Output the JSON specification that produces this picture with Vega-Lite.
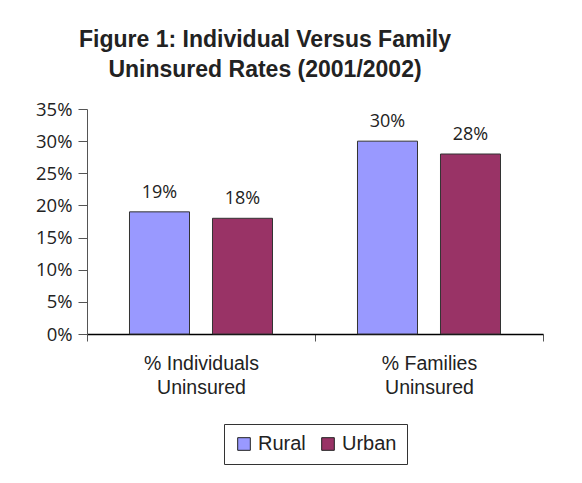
{
  "$schema": "https://vega.github.io/schema/vega-lite/v6.json",
  "width": 456,
  "height": 225,
  "padding": {"left": 35, "top": 29, "right": 5, "bottom": 5},
  "background": "white",
  "title": {
    "text": ["Figure 1: Individual Versus Family", "Uninsured Rates (2001/2002)"],
    "font": "Liberation Sans",
    "fontSize": 23,
    "fontWeight": "bold",
    "color": "#222222",
    "anchor": "middle",
    "dx": -50,
    "lineHeight": 30,
    "offset": 18
  },
  "data": {
    "values": [
      {"category": "% Individuals|Uninsured", "area": "Rural", "rate": 0.19},
      {"category": "% Individuals|Uninsured", "area": "Urban", "rate": 0.18},
      {"category": "% Families|Uninsured", "area": "Rural", "rate": 0.30},
      {"category": "% Families|Uninsured", "area": "Urban", "rate": 0.28}
    ]
  },
  "encoding": {
    "x": {
      "field": "category",
      "type": "nominal",
      "sort": null,
      "scale": {"paddingInner": 0, "paddingOuter": 0},
      "axis": {
        "title": null,
        "labelAngle": 0,
        "labelExpr": "split(datum.label, '|')",
        "labelFont": "Liberation Sans",
        "labelFontSize": 19.5,
        "labelColor": "#222222",
        "labelLineHeight": 24,
        "labelPadding": 13,
        "tickBand": "extent",
        "tickSize": 7,
        "tickColor": "#555555",
        "domainColor": "#000000",
        "domainWidth": 1.5
      }
    },
    "xOffset": {
      "field": "area",
      "type": "nominal",
      "scale": {"paddingInner": 0.277, "paddingOuter": 0.512}
    },
    "y": {
      "field": "rate",
      "type": "quantitative",
      "scale": {"domain": [0, 0.35]},
      "axis": {
        "title": null,
        "format": ".0%",
        "values": [0, 0.05, 0.1, 0.15, 0.2, 0.25, 0.3, 0.35],
        "grid": false,
        "labelFont": "Open Sans",
        "labelFontSize": 18.5,
        "labelColor": "#222222",
        "labelPadding": 6,
        "tickSize": 9,
        "tickColor": "#555555",
        "domainColor": "#555555"
      }
    }
  },
  "layer": [
    {
      "mark": {"type": "bar", "stroke": "#333333", "strokeWidth": 1},
      "encoding": {
        "color": {
          "field": "area",
          "type": "nominal",
          "scale": {"domain": ["Rural", "Urban"], "range": ["#9999FF", "#993366"]},
          "legend": {
            "title": null,
            "orient": "bottom",
            "direction": "horizontal",
            "symbolType": "square",
            "symbolSize": 160,
            "symbolStrokeColor": "#222222",
            "symbolStrokeWidth": 1,
            "labelFont": "Liberation Sans",
            "labelFontSize": 20,
            "labelColor": "#222222",
            "strokeColor": "#333333",
            "padding": 10,
            "columnPadding": 12,
            "offset": 27
          }
        }
      }
    },
    {
      "mark": {"type": "text", "dy": -14, "baseline": "alphabetic", "font": "Open Sans", "fontSize": 18, "color": "#222222"},
      "encoding": {
        "text": {"field": "rate", "type": "quantitative", "format": ".0%"}
      }
    }
  ],
  "config": {
    "view": {"stroke": null},
    "legend": {"layout": {"bottom": {"anchor": "middle"}}}
  }
}
